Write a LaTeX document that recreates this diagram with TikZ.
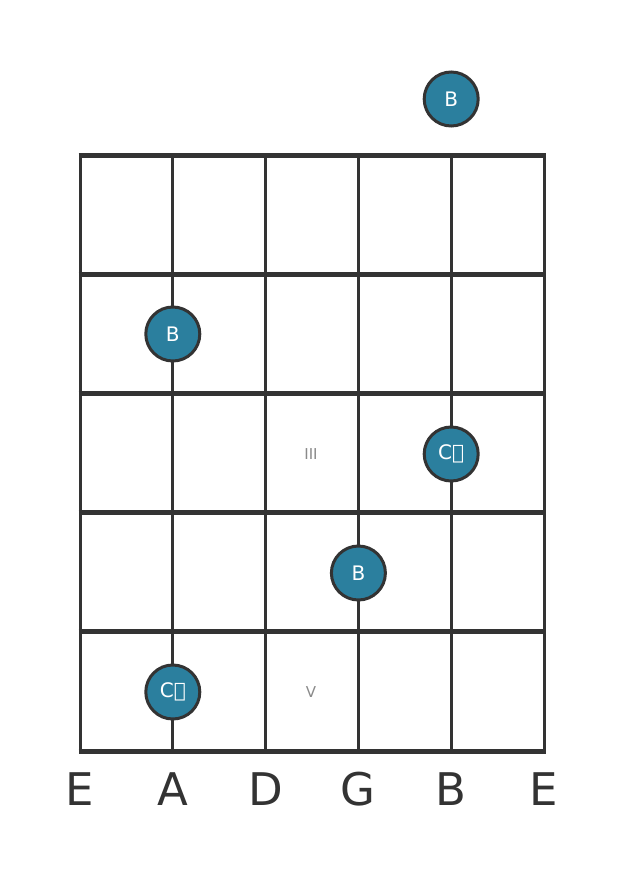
\documentclass[tikz,border=0pt]{standalone}
\usepackage{fontspec}
\setmainfont{DejaVu Sans}
\usetikzlibrary{positioning}
\definecolor{gridgray}{HTML}{333333}
\definecolor{noteblue}{HTML}{2B7F9E}
\definecolor{fretlabel}{HTML}{8A8A8A}

\begin{document}
\begin{tikzpicture}[x=1pt,y=-1pt,
  note/.style={circle, draw=gridgray, line width=3pt, fill=noteblue, minimum size=54pt,
    inner sep=0pt, text=white, font=\fontsize{20}{20}\selectfont},
  fretnum/.style={text=fretlabel, font=\fontsize{15}{15}\selectfont},
  stringname/.style={text=gridgray, font=\fontsize{45}{45}\selectfont}]
\fill[white] (0,0) rectangle (626,873);
\useasboundingbox (0,0) rectangle (626,873);

% strings
\foreach \sx in {80,172.8,265.6,358.4,451.2,544}
  \draw[gridgray, line width=3pt] (\sx,155) -- (\sx,751);
% frets
\foreach \fy in {155,274.2,393.4,512.6,631.8,751}
  \draw[gridgray, line width=5pt] (78.5,\fy) -- (545.5,\fy);

% fret numbers
\node[fretnum] (f3) at (311,454) {III};
\node[fretnum] (f5) at (311,692) {V};

% notes
\node[note] (n1) at (451.2,99) {B};
\node[note] (n2) at (172.8,334) {B};
\node[note] (n3) at (451.2,454) {C𝄪};
\node[note] (n4) at (358.4,573) {B};
\node[note] (n5) at (172.8,692) {C𝄪};

% string names
\node[stringname] (s1) at (80,789) {E};
\node[stringname] (s2) at (172.8,789) {A};
\node[stringname] (s3) at (265.6,789) {D};
\node[stringname] (s4) at (358.4,789) {G};
\node[stringname] (s5) at (451.2,789) {B};
\node[stringname] (s6) at (544,789) {E};
\end{tikzpicture}
\end{document}
